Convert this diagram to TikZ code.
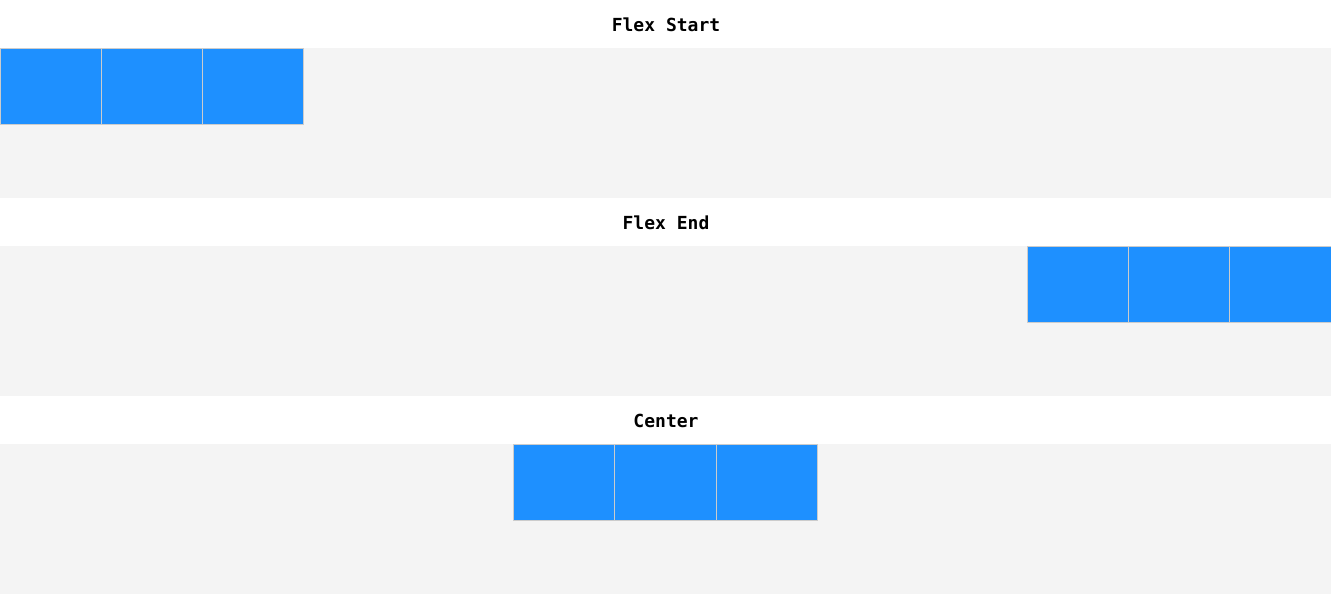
\documentclass[tikz,border=0pt]{standalone}
\usepackage{fontspec}
\newfontfamily\labelfont{DejaVu Sans Mono}
\usetikzlibrary{positioning}
\definecolor{bandgrey}{HTML}{F4F4F4}
\definecolor{itemblue}{HTML}{1E90FF}
\definecolor{itemline}{HTML}{CCCCCC}

\begin{document}
\begin{tikzpicture}[x=1pt, y=-1pt,
        title/.style={font=\labelfont\bfseries\fontsize{18}{21}\selectfont},
        item/.style={fill=itemblue, draw=itemline, line width=1pt, minimum width=101.3pt,
                minimum height=76pt, inner sep=0pt, outer sep=0pt}]
        \useasboundingbox[fill=white] (0,0) rectangle (1331,600);
        % containers
        \fill[bandgrey] (0,48) rectangle (1331,198);
        \fill[bandgrey] (0,246) rectangle (1331,396);
        \fill[bandgrey] (0,444) rectangle (1331,594);

        % flex start
        \node[title] (flexstart) at (666,24.5) {Flex Start};
        \node[item] (s1) at (50.65,86) {};
        \node[item, right=0pt of s1] (s2) {};
        \node[item, right=0pt of s2] (s3) {};

        % flex end
        \node[title] (flexend) at (666,222.5) {Flex End};
        \node[item] (e3) at (1280.35,284) {};
        \node[item, left=0pt of e3] (e2) {};
        \node[item, left=0pt of e2] (e1) {};

        % center
        \node[title] (center) at (666,420.5) {Center};
        \node[item] (c2) at (665.5,482) {};
        \node[item, left=0pt of c2] (c1) {};
        \node[item, right=0pt of c2] (c3) {};
\end{tikzpicture}
\end{document}
